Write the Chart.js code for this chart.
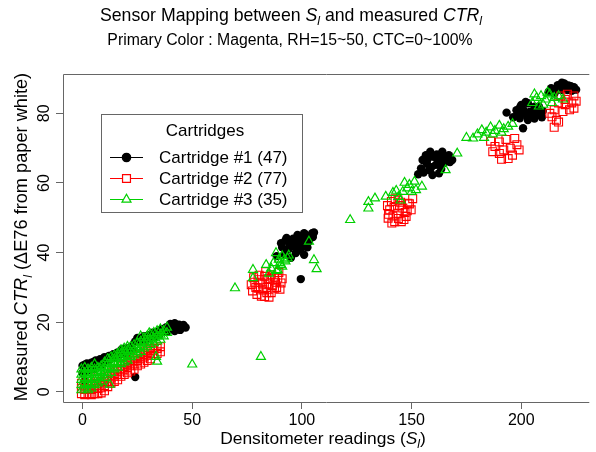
<!DOCTYPE html>
<html>
<head>
<meta charset="utf-8">
<script src="https://cdn.jsdelivr.net/npm/chart.js@4"></script>
<style>html,body{margin:0;padding:0;background:#fff;overflow:hidden}</style>
</head>
<body>
<canvas id="chart" width="596" height="452"></canvas>
<script>
// tick values
const xTicks = [0, 50, 100, 150, 200];
const yTicks = [0, 20, 40, 60, 80];

const seriesNames = ['Cartridge #1 (47)', 'Cartridge #2 (77)', 'Cartridge #3 (35)'];
const seriesColors = ['#000000', '#ff0000', '#00d000'];

// Cartridge #1 (black dots) - [S_l, CTR_l]
const cart1 = [
  [0,7.5],[0,5.5],[1,3],[1,7.8],[2,6],[2,8.2],[3,7],[4,8.4],[5,6.5],[5,8.6],[6,9],[7,7.5],[8,9.4],[9,8],
  [10,10],[11,9],[12,10.3],[13,9.5],[14,10.8],[15,10],[16,11.3],[17,10.8],[18,12.3],[19,11],[20,12.5],
  [21,11.5],[22,13],[23,12.3],[24,4.3],[24,14.5],[25,15.5],[26,14.5],[27,15],[28,16],[29,15],[30,16.3],
  [31,15.5],[32,17],[33,16],[34,17.3],[35,16.5],[36,18],[37,17.5],[38,18.5],[39,17.5],[40,19.5],[41,18.5],
  [42,19.7],[43,18.8],[44,19.3],[45,18.6],[46,19.2],[42,17.5],[44.5,17.8],[47,18.5],[39.5,19],
  [98,45.1],[101,45.6],[104.7,45.6],[101.7,44.2],[103.2,43.2],[98.7,42.7],[96.5,41.8],[94.2,42.7],[90.5,42.7],
  [93.5,40.8],[97.2,39.9],[101,39.4],[99.5,32.4],[100,43.5],[96,44],[102.5,41.5],[88.5,39],[92,39.5],[95,38.5],
  [99,41],[105,44.5],[91,41.5],[92.5,43.5],[94,41],[95.5,43],[97,42.5],[98,40.5],[100,41.5],[102,43],
  [103.5,44.5],[99.5,44.5],[97.5,44],[105.5,45.8],[102,45],[93,44.2],
  [156.5,68],[164,69],[167,68],[168.5,66.6],[164.8,65.7],[161,65.2],[158,63.7],[154.3,64.2],[155,66.6],
  [159.5,62.3],[162.5,62.8],[160,67.5],[163,67],[157,65.5],[166,66.8],[153,62.5],[157.5,67],[159,64.5],
  [161.5,68.2],[163.5,64],[165.5,67.5],[155.5,63],[158.5,69],[162,66],[167.5,66],
  [197.8,80.9],[200,82.4],[203,82.9],[206,81.9],[205.3,80.5],[202.3,79.5],[199.3,78.6],[203,78.1],[206.8,79.5],
  [193.3,80.2],[196.3,78.9],[200.8,75.7],[209.4,78.9],[209.8,80.7],[201,81],[204,80.5],[198.5,80],[208,82],
  [199,79.8],[201.5,80],[204.5,79.2],[206,78.5],[207.5,80.8],[202,83.3],[199.5,81.8],
  [213.6,87.2],[216.6,88.1],[219.6,88.6],[222.6,87.8],[218.1,86.7],[215.1,85.7],[221,86.7],[224,87.5],[217,87.5],
  [220,87.8],[214.5,86.5],[216,86.8],[219,87.2],[221.5,88],[223,86.5],[225,86.8],[218.5,88.8],[212.5,86.2]
];

// Cartridge #2 (red squares)
const cart2 = [
  [-0.5,-0.5],[-0.5,1],[-0.5,2.5],[1,-0.8],[1,0.7],[1,2],[2.5,-0.5],[2.5,1],[2.5,2.5],[4,-0.8],[4,0.7],[4,2],
  [5.5,-0.5],[5.5,1],[5.5,2.5],[7,-0.5],[7,1],[7,2.5],[7,4],[8.5,-0.3],[8.5,1.2],[8.5,3],[10,0.3],[10,1.8],
  [10,3.5],[11.5,1.5],[11.5,3],[11.5,4.5],[13,2.5],[13,4],[13,5.5],[14.5,3],[14.5,4.5],[14.5,6],[16,3.5],[16,5],
  [16,6.5],[17.5,4.5],[17.5,6],[17.5,7.5],[19,5],[19,6.5],[19,8],[20.5,5.5],[20.5,7],[20.5,8.5],[22,6],[22,7.5],
  [22,9],[23.5,6.5],[23.5,8],[23.5,9.5],[25,7.5],[25,9],[25,10.5],[26.5,8],[26.5,9.5],[26.5,11],[28,8.5],[28,10],
  [28,11.5],[29.5,9],[29.5,10.5],[29.5,12],[31,9.5],[31,11],[31,12.5],[32.5,10.5],[32.5,12],[34,11],[34,12.5],
  [35.5,11.5],[35.5,13],
  [76.9,30.8],[80,32.2],[83,33.2],[86,33.6],[89,32.7],[90.5,31.3],[87.5,29.8],[83,27.4],[80,29.8],[82.2,29.3],
  [85,31],[88,31.5],[84,30],[78.5,31.5],[86,28.5],[81,31.5],[89.5,34.3],[84.5,32.5],[79,30],
  [77.5,29],[79.5,28],[81.5,27.5],[84,28.5],[86.5,30.5],[88.5,30],[82,31],[85.5,32.5],[87.5,33],[80.5,33.5],
  [83.5,34.5],[91,32.5],[78,32.8],[90,29.5],[85,27.2],
  [140.8,54.7],[143.8,55.1],[148.3,54.2],[149.8,52.3],[147.5,50.4],[145.3,48.9],[142.3,48.9],[139.3,49.9],
  [140,52.3],[143.8,51.3],[146,52.8],[141.5,50.5],[144.5,53.5],[148,52],[142,53],[146.5,49.5],[150.5,55.5],
  [139.5,51],[141,48.5],[144,49.8],[147,51.5],[149,54],[145,54.5],[142.5,55.5],[139,53.5],
  [186,72],[188,70.5],[190,71.8],[192,69.5],[193,72.5],[195,70],[196,68],[198,71],[194,67],[190,68.5],[187,69],
  [197,72.8],[199,69.5],[191,66.8],
  [218,85],[221,85.5],[224,85],[223,83],[220,82.5],[225,83.5],[222,81],[219,80.5],[215,81],[214,79],[216,78],
  [215,76],[217,77.5],[213,80],[224,81.5],[220,84],[217,83]
];

// Cartridge #3 (green triangles)
const cart3 = [
  [-0.5,0.5],[-0.5,2],[-0.5,3.5],[-0.5,5],[-0.5,6.5],[1,1],[1,2.5],[1,4],[1,5.5],[1,7],[2.5,0.5],[2.5,2],
  [2.5,3.5],[2.5,5],[2.5,6.5],[4,1],[4,2.5],[4,4],[4,5.5],[4,7],[5.5,2],[5.5,3.5],[5.5,5],[5.5,6.5],[5.5,8],
  [7,2.5],[7,4],[7,5.5],[7,7],[8.5,3],[8.5,4.5],[8.5,6],[8.5,7.5],[10,4],[10,5.5],[10,7],[10,8.5],[11.5,5],
  [11.5,6.5],[11.5,8],[11.5,9.5],[13,5.5],[13,7],[13,8.5],[13,10],[14.5,6.5],[14.5,8],[14.5,9.5],[14.5,10.5],
  [16,7],[16,8.5],[16,10],[16,11],[17.5,8],[17.5,9.5],[17.5,11],[17.5,12],[19,8.5],[19,10],[19,11.5],[19,12.5],
  [20.5,9],[20.5,10.5],[20.5,12],[20.5,13],[22,10],[22,11.5],[22,13],[23.5,10.5],[23.5,12],[23.5,13.5],[25,11],
  [25,12.5],[25,14],[26.5,11.5],[26.5,13],[26.5,14.5],[26.5,16],[28,12.5],[28,14],[28,15.5],[29.5,13],[29.5,14.5],
  [29.5,16],[31,13.5],[31,15],[31,16.5],[32.5,14],[32.5,15.5],[32.5,17],[34,14.5],[34,16],[34,17.5],[35.5,15],
  [35.5,16.5],[35.5,18],[37,16],[37,17.5],[38.5,17],[38.5,18.5],[30.4,16.9],[12.4,2.1],
  [33.5,10.1],[34,8.7],[50,7.9],[81.3,10.1],
  [69.5,29.8],[77.7,32.7],[77.7,35.1],[83.7,36.5],[88.2,39.9],[93.5,38.4],[89,35],[90,37],[91,36],[92,38],
  [89.5,38],[86,35.5],[87,37],[85,34],[91,39],[90.5,36.5],[88.5,34.8],[92.5,37.5],[94,39.2],[103.2,43.2],
  [105.5,37.9],[106.7,35.3],
  [122,49.4],[130.3,54.6],[130.3,52.7],[133.3,55.6],[138.2,56.1],[141.5,57.2],[146.8,60.1],[151.3,60.4],
  [154.7,59],[144,56],[146,57.5],[148,58.5],[150,57.5],[145,55],[143,57.8],[149,59.5],[152,58],[165.5,63.7],[170.8,68.5],
  [175,73],[178,72.8],[180,74],[182,75.2],[184,74.5],[186,76],[188,75],[190,76.5],[192,75.5],[194,76.2],[183,73],
  [187,74],[191,74.5],[196,77],
  [205,83],[207,84.5],[209,85],[211,84],[213,85.5],[215,84.5],[217,85],[219,84],[210,82.5],[214,83],[208,82],
  [212,86],[206,85.5]
];

const FONT = '"Liberation Sans", Arial, sans-serif';
const FRAME = '#666666';

function toPoints(arr) { return arr.map(p => ({ x: p[0], y: p[1] })); }

// draw a line of text made of pieces, some italic / subscript
function richWidth(ctx, parts, size) {
  let w = 0;
  parts.forEach(p => {
    const s = p.sub ? size * 0.7 : size;
    ctx.font = (p.it ? 'italic ' : '') + s + 'px ' + FONT;
    w += ctx.measureText(p.t).width;
  });
  return w;
}
function drawRich(ctx, parts, size, cx, y) {
  let x = cx - richWidth(ctx, parts, size) / 2;
  ctx.textAlign = 'left';
  ctx.textBaseline = 'alphabetic';
  parts.forEach(p => {
    const s = p.sub ? size * 0.7 : size;
    ctx.font = (p.it ? 'italic ' : '') + s + 'px ' + FONT;
    ctx.fillText(p.t, x, p.sub ? y + size * 0.25 : y);
    x += ctx.measureText(p.t).width;
  });
}

const decor = {
  id: 'decor',
  afterDraw(chart) {
    const ctx = chart.ctx;
    const a = chart.chartArea;
    const ys = chart.scales.y;
    ctx.save();
    // frame (right side is cut off by the image)
    ctx.strokeStyle = FRAME;
    ctx.lineWidth = 1;
    ctx.beginPath();
    ctx.moveTo(a.right, a.top + 0.5);
    ctx.lineTo(a.left + 0.5, a.top + 0.5);
    ctx.lineTo(a.left + 0.5, a.bottom + 0.5);
    ctx.lineTo(a.right, a.bottom + 0.5);
    ctx.stroke();

    ctx.fillStyle = '#000';
    // titles
    drawRich(ctx, [{t:'Sensor Mapping between '},{t:'S',it:true},{t:'l',it:true,sub:true},
      {t:' and measured '},{t:'CTR',it:true},{t:'l',it:true,sub:true}], 17.7, 291, 21);
    drawRich(ctx, [{t:'Primary Color : Magenta, RH=15~50, CTC=0~100%'}], 15.8, 290, 45);
    // x axis title
    drawRich(ctx, [{t:'Densitometer readings ('},{t:'S',it:true},{t:'l',it:true,sub:true},{t:')'}], 17.4, 323, 444);
    // y axis title (rotated)
    ctx.save();
    ctx.translate(27, 237);
    ctx.rotate(-Math.PI / 2);
    drawRich(ctx, [{t:'Measured '},{t:'CTR',it:true},{t:'l',it:true,sub:true},{t:' (\u0394E76 from paper white)'}], 18.2, 0, 0);
    ctx.restore();
    // y tick labels, rotated like R
    ctx.font = '16px ' + FONT;
    yTicks.forEach(v => {
      ctx.save();
      ctx.translate(49, ys.getPixelForValue(v));
      ctx.rotate(-Math.PI / 2);
      ctx.textAlign = 'center';
      ctx.textBaseline = 'alphabetic';
      ctx.fillText(String(v), 0, 0);
      ctx.restore();
    });

    // legend box
    const L = { x: 101.5, y: 114.5, w: 201, h: 98 };
    ctx.strokeStyle = FRAME;
    ctx.strokeRect(L.x, L.y, L.w, L.h);
    ctx.font = '17px ' + FONT;
    ctx.textAlign = 'center';
    ctx.textBaseline = 'middle';
    ctx.fillText('Cartridges', 205, 131);
    const rows = [157, 178, 199];
    seriesNames.forEach((name, i) => {
      const cy = rows[i];
      ctx.strokeStyle = seriesColors[i];
      ctx.lineWidth = 1.2;
      ctx.beginPath();
      ctx.moveTo(110, cy + 0.5);
      ctx.lineTo(143, cy + 0.5);
      ctx.stroke();
      const ds = chart.data.datasets[i];
      ctx.fillStyle = i === 0 ? seriesColors[0] : '#ffffff';
      Chart.helpers.drawPoint(ctx, {
        pointStyle: ds.pointStyle, radius: ds.pointRadius, borderWidth: 1.2, rotation: 0
      }, 126.5, cy + 0.5);
      ctx.fillStyle = '#000';
      ctx.font = '17px ' + FONT;
      ctx.textAlign = 'left';
      ctx.fillText(name, 159, cy + 1);
    });
    ctx.restore();
  }
};

new Chart(document.getElementById('chart'), {
  type: 'scatter',
  data: {
    datasets: [
      { label: seriesNames[0], data: toPoints(cart1), pointStyle: 'circle', pointRadius: 4.2,
        backgroundColor: '#000', borderColor: '#000', borderWidth: 0, order: 3 },
      { label: seriesNames[1], data: toPoints(cart2), pointStyle: 'rect', pointRadius: 5.6,
        backgroundColor: 'rgba(0,0,0,0)', borderColor: seriesColors[1], borderWidth: 1.1, order: 2 },
      { label: seriesNames[2], data: toPoints(cart3), pointStyle: 'triangle', pointRadius: 5.2,
        backgroundColor: 'rgba(0,0,0,0)', borderColor: seriesColors[2], borderWidth: 1.2, order: 1 }
    ]
  },
  options: {
    responsive: false,
    animation: false,
    devicePixelRatio: 1,
    layout: { padding: { top: 74, left: 0, right: 0, bottom: 0 } },
    plugins: { legend: { display: false }, tooltip: { enabled: false } },
    scales: {
      x: {
        type: 'linear', min: -8.9, max: 231,
        afterBuildTicks: s => { s.ticks = xTicks.map(v => ({ value: v })); },
        afterFit: s => { s.height = 50; },
        border: { display: false },
        grid: { drawOnChartArea: false, drawTicks: true, tickLength: 7, color: FRAME },
        ticks: { font: { size: 16, family: FONT }, color: '#000', padding: 2, maxRotation: 0 }
      },
      y: {
        type: 'linear', min: -2.9, max: 91.3,
        afterBuildTicks: s => { s.ticks = yTicks.map(v => ({ value: v })); },
        afterFit: s => { s.width = 63; },
        border: { display: false },
        grid: { drawOnChartArea: false, drawTicks: true, tickLength: 7, color: FRAME },
        ticks: { display: false }
      }
    }
  },
  plugins: [decor]
});
</script>
</body>
</html>
